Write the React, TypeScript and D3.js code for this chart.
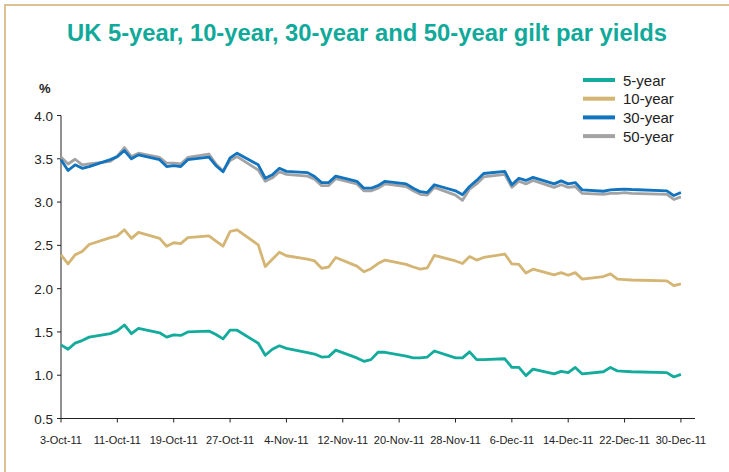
import { useEffect, useRef } from 'react';
import * as d3 from 'd3';

// business days, Oct-Dec 2011 (26/27 Dec bank holidays)
const dates = [
    '2011-10-03', '2011-10-04', '2011-10-05', '2011-10-06', '2011-10-07',
    '2011-10-10', '2011-10-11', '2011-10-12', '2011-10-13', '2011-10-14',
    '2011-10-17', '2011-10-18', '2011-10-19', '2011-10-20', '2011-10-21',
    '2011-10-24', '2011-10-25', '2011-10-26', '2011-10-27', '2011-10-28',
    '2011-10-31', '2011-11-01', '2011-11-02', '2011-11-03', '2011-11-04',
    '2011-11-07', '2011-11-08', '2011-11-09', '2011-11-10', '2011-11-11',
    '2011-11-14', '2011-11-15', '2011-11-16', '2011-11-17', '2011-11-18',
    '2011-11-21', '2011-11-22', '2011-11-23', '2011-11-24', '2011-11-25',
    '2011-11-28', '2011-11-29', '2011-11-30', '2011-12-01', '2011-12-02',
    '2011-12-05', '2011-12-06', '2011-12-07', '2011-12-08', '2011-12-09',
    '2011-12-12', '2011-12-13', '2011-12-14', '2011-12-15', '2011-12-16',
    '2011-12-19', '2011-12-20', '2011-12-21', '2011-12-22', '2011-12-23',
    '2011-12-28', '2011-12-29', '2011-12-30',
];

const yield5 = [
    1.35, 1.30, 1.37, 1.40, 1.44, 1.48, 1.515, 1.58, 1.48, 1.54,
    1.49, 1.44, 1.465, 1.46, 1.50, 1.51, 1.47, 1.42, 1.52, 1.52,
    1.37, 1.23, 1.30, 1.34, 1.31, 1.26, 1.245, 1.21, 1.215, 1.29,
    1.20, 1.16, 1.18, 1.265, 1.265, 1.22, 1.20, 1.20, 1.21, 1.28,
    1.20, 1.20, 1.27, 1.18, 1.18, 1.19, 1.09, 1.09, 0.995, 1.07,
    1.015, 1.045, 1.03, 1.09, 1.015, 1.04, 1.09, 1.05, 1.045, 1.04,
    1.03, 0.98, 1.01,
];

const yield10 = [
    2.39, 2.285, 2.39, 2.43, 2.51, 2.59, 2.61, 2.68, 2.58, 2.65,
    2.58, 2.49, 2.53, 2.52, 2.59, 2.61, 2.55, 2.49, 2.66, 2.68,
    2.505, 2.255, 2.34, 2.42, 2.38, 2.34, 2.32, 2.235, 2.25, 2.36,
    2.26, 2.195, 2.23, 2.29, 2.33, 2.28, 2.25, 2.225, 2.24, 2.385,
    2.32, 2.29, 2.37, 2.33, 2.36, 2.40, 2.285, 2.28, 2.18, 2.225,
    2.16, 2.185, 2.155, 2.185, 2.11, 2.14, 2.17, 2.11, 2.105, 2.10,
    2.09, 2.035, 2.055,
];

const yield30 = [
    3.49, 3.365, 3.43, 3.39, 3.41, 3.49, 3.525, 3.595, 3.50, 3.545,
    3.49, 3.41, 3.42, 3.41, 3.49, 3.52, 3.42, 3.35, 3.51, 3.565,
    3.43, 3.275, 3.315, 3.39, 3.355, 3.34, 3.295, 3.225, 3.225, 3.30,
    3.24, 3.16, 3.16, 3.19, 3.24, 3.21, 3.16, 3.12, 3.11, 3.20,
    3.13, 3.085, 3.18, 3.25, 3.33, 3.355, 3.20, 3.275, 3.25, 3.285,
    3.21, 3.245, 3.21, 3.225, 3.14, 3.125, 3.14, 3.145, 3.15, 3.145,
    3.13, 3.075, 3.11,
];

const yield50 = [
    3.52, 3.44, 3.495, 3.43, 3.44, 3.47, 3.53, 3.63, 3.525, 3.565,
    3.515, 3.45, 3.45, 3.44, 3.515, 3.555, 3.44, 3.36, 3.48, 3.525,
    3.37, 3.24, 3.28, 3.35, 3.32, 3.30, 3.265, 3.19, 3.19, 3.27,
    3.21, 3.13, 3.13, 3.16, 3.21, 3.18, 3.13, 3.09, 3.08, 3.17,
    3.08, 3.02, 3.15, 3.21, 3.29, 3.32, 3.17, 3.24, 3.21, 3.25,
    3.17, 3.20, 3.17, 3.18, 3.10, 3.09, 3.10, 3.10, 3.11, 3.10,
    3.09, 3.03, 3.06,
];

const seriesNames = ['5-year', '10-year', '30-year', '50-year'];
const seriesColors = ['#13ab9b', '#d4b573', '#1273bf', '#a3a3a5'];
const yTicks = [0.5, 1.0, 1.5, 2.0, 2.5, 3.0, 3.5, 4.0];

const App = () => {
    const ref = useRef<SVGSVGElement>(null);
    const width = 729,
        height = 472;

    useEffect(() => {
        const svg = d3.select(ref.current).attr('width', width).attr('height', height);
        svg.selectAll('*').remove();

        const font = '"Liberation Sans", Arial, sans-serif';
        const parse = d3.utcParse('%Y-%m-%d');
        const days = dates.map((d) => parse(d) as Date);

        const x = d3
            .scaleUtc()
            .domain([parse('2011-10-03') as Date, parse('2012-01-01') as Date])
            .range([61, 695]);
        const y = d3.scaleLinear().domain([0.5, 4.0]).range([418.5, 115.5]);

        // frame
        svg.append('rect')
            .attr('x', 5)
            .attr('y', 5)
            .attr('width', 900)
            .attr('height', 700)
            .attr('fill', 'none')
            .attr('stroke', '#dcc292')
            .attr('stroke-width', 2);

        // Title
        svg.append('text')
            .attr('x', 367)
            .attr('y', 41)
            .attr('text-anchor', 'middle')
            .attr('font-family', font)
            .attr('font-size', '23px')
            .attr('font-weight', 'bold')
            .attr('fill', '#10a99a')
            .attr('textLength', 600)
            .attr('lengthAdjust', 'spacingAndGlyphs')
            .text('UK 5-year, 10-year, 30-year and 50-year gilt par yields');

        svg.append('text')
            .attr('x', 39)
            .attr('y', 93)
            .attr('font-family', font)
            .attr('font-size', '13px')
            .attr('font-weight', 'bold')
            .attr('fill', '#222')
            .text('%');

        // y axis
        const yAxis = svg.append('g').attr('transform', 'translate(61,0)');
        yAxis.append('line').attr('y1', y(0.5)).attr('y2', y(4.0)).attr('stroke', '#222');
        yTicks.forEach((t) => {
            yAxis.append('line').attr('x1', -4).attr('x2', 0).attr('y1', y(t)).attr('y2', y(t)).attr('stroke', '#222');
            yAxis.append('text')
                .attr('x', -8)
                .attr('y', y(t) + 5)
                .attr('text-anchor', 'end')
                .attr('font-family', font)
                .attr('font-size', '13.5px')
                .attr('fill', '#222')
                .text(d3.format('.1f')(t));
        });

        // x axis, a tick every 8 days
        const xTicks = d3.utcDay.every(1)!.range(parse('2011-10-03') as Date, parse('2011-12-31') as Date).filter((_, i) => i % 8 === 0);
        const fmt = d3.utcFormat('%-d-%b-%y');
        const xAxis = svg.append('g').attr('transform', `translate(0,${y(0.5)})`);
        xAxis.append('line').attr('x1', x.range()[0]).attr('x2', x.range()[1]).attr('stroke', '#222');
        xTicks.forEach((t) => {
            xAxis.append('line').attr('x1', x(t)).attr('x2', x(t)).attr('y1', 0).attr('y2', 4).attr('stroke', '#222');
            xAxis.append('text')
                .attr('x', x(t))
                .attr('y', 25)
                .attr('text-anchor', 'middle')
                .attr('font-family', font)
                .attr('font-size', '11px')
                .attr('fill', '#222')
                .text(fmt(t));
        });

        // lines
        const line = d3
            .line<number>()
            .x((_, i) => x(days[i]))
            .y((d) => y(d));

        const all = [yield5, yield10, yield50, yield30];
        const cols = [seriesColors[0], seriesColors[1], seriesColors[3], seriesColors[2]];
        all.forEach((vals, i) => {
            svg.append('path')
                .attr('d', line(vals))
                .attr('fill', 'none')
                .attr('stroke', cols[i])
                .attr('stroke-width', 2.8)
                .attr('stroke-linejoin', 'round');
        });

        // legend
        const legend = svg.append('g').attr('transform', 'translate(583,80)');
        seriesNames.forEach((name, i) => {
            legend.append('line')
                .attr('x1', 0)
                .attr('x2', 32)
                .attr('y1', i * 18.7)
                .attr('y2', i * 18.7)
                .attr('stroke', seriesColors[i])
                .attr('stroke-width', 4);
            legend.append('text')
                .attr('x', 40)
                .attr('y', i * 18.7 + 5.5)
                .attr('font-family', font)
                .attr('font-size', '15px')
                .attr('fill', '#222')
                .text(name);
        });
    }, []);

    return <svg ref={ref} style={{ position: 'absolute', left: 0, top: 0 }}></svg>;
};

export default App;
